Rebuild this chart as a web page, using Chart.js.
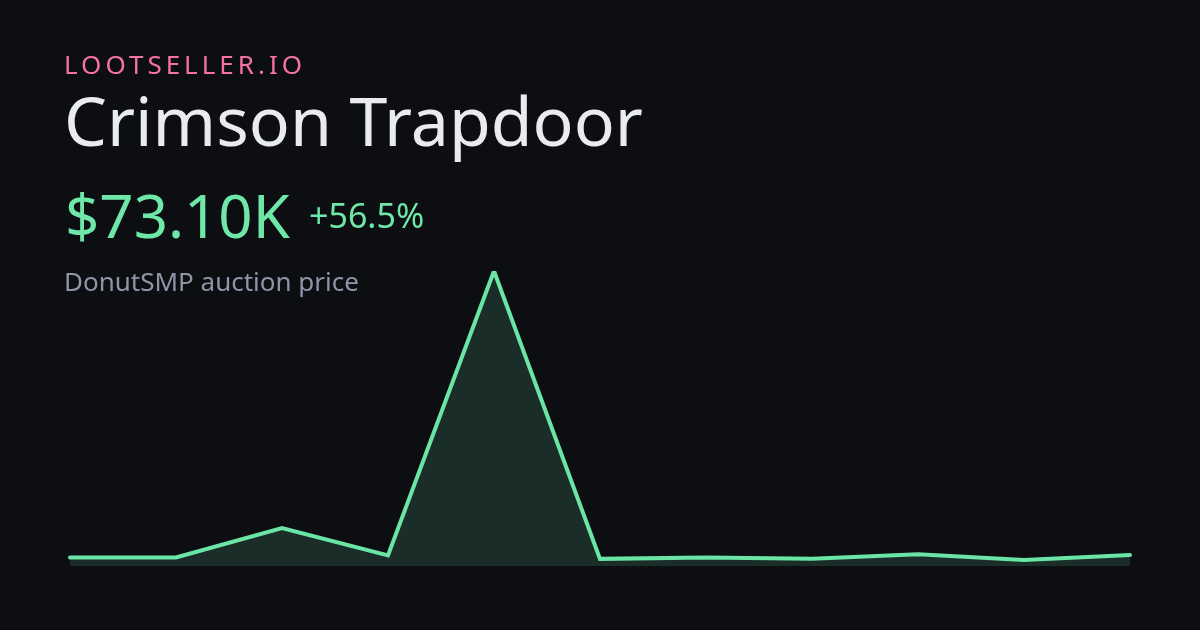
<!DOCTYPE html>
<html>
<head>
<meta charset="utf-8">
<script src="https://cdn.jsdelivr.net/npm/chart.js@4"></script>
<style>
  html, body { margin: 0; padding: 0; background: #0c0e12; }
  body { width: 1200px; height: 630px; overflow: hidden; position: relative; font-family: "Noto Sans", sans-serif; }
  canvas { position: absolute; left: 0; top: 0; }
  .t { position: absolute; left: 65px; white-space: nowrap; line-height: 1; }
  #brand { left: 64px; top: 51px; font-size: 26px; letter-spacing: 4px; color: #f472a6; }
  #title { left: 64px; top: 86px; font-size: 68px; color: #e9ebf0; }
  #price { left: 65px; top: 185px; font-size: 60px; color: #6ee7a8; }
  #change { left: 309px; top: 198px; font-size: 34px; color: #6ee7a8; }
  #sub { left: 64px; top: 268px; font-size: 26px; color: #8f94a8; }
</style>
</head>
<body>
<canvas id="chart" width="1200" height="630"></canvas>
<div class="t" id="brand">LOOTSELLER.IO</div>
<div class="t" id="title">Crimson Trapdoor</div>
<div class="t" id="price">$73.10K</div>
<div class="t" id="change">+56.5%</div>
<div class="t" id="sub">DonutSMP auction price</div>
<script>
const labels = ["1", "2", "3", "4", "5", "6", "7", "8", "9", "10", "11"];
const prices = [55, 55, 245, 68, 1900, 46, 55, 46, 75, 39, 71];

new Chart(document.getElementById("chart"), {
    type: "line",
    data: {
        labels,
        datasets: [{
            data: prices,
            borderColor: "#6ae5a5",
            borderWidth: 4,
            borderCapStyle: "round",
            borderJoinStyle: "miter",
            backgroundColor: "rgba(110,231,168,0.15)",
            fill: "origin",
            pointRadius: 0,
            tension: 0,
        }]
    },
    options: {
        responsive: false,
        animation: false,
        layout: { padding: { left: 70, right: 70, top: 271, bottom: 64 } },
        plugins: { legend: { display: false }, tooltip: { enabled: false } },
        scales: {
            x: { display: false },
            y: { display: false, min: 0, max: 1900 },
        },
    },
});
</script>
</body>
</html>
